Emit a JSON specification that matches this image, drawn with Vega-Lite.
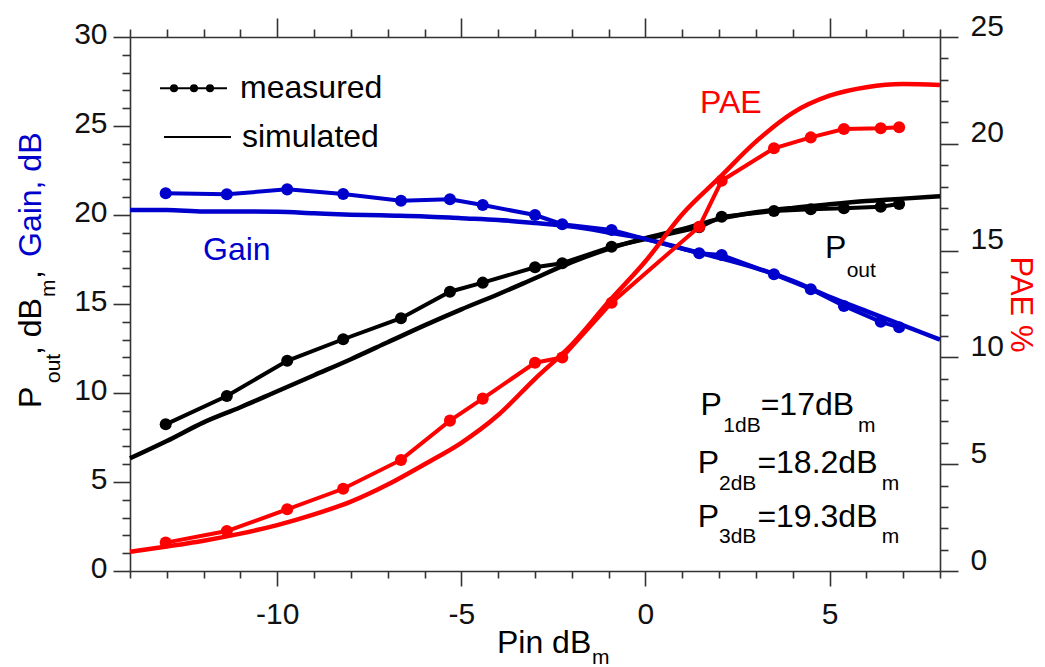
{
  "$schema": "https://vega.github.io/schema/vega-lite/v6.json",
  "width": 810,
  "height": 534,
  "autosize": {"type": "none"},
  "padding": {"left": 130, "top": 37, "right": 105, "bottom": 96},
  "background": "white",
  "config": {
    "font": "Liberation Sans",
    "view": {"stroke": null},
    "axis": {
      "grid": false,
      "domainColor": "#333333",
      "domainWidth": 1.6,
      "tickColor": "#333333",
      "tickWidth": 1.6,
      "labelFont": "Liberation Sans",
      "labelFontSize": 30,
      "labelColor": "#111111",
      "titleFont": "Liberation Sans"
    }
  },
  "datasets": {
    "leftSim": [
      {"x": -14, "y": 6.33, "series": "Pout"}, {"x": -13, "y": 7.3, "series": "Pout"}, {"x": -12, "y": 8.35, "series": "Pout"},
      {"x": -11, "y": 9.2, "series": "Pout"}, {"x": -10, "y": 10.1, "series": "Pout"}, {"x": -9, "y": 11.0, "series": "Pout"},
      {"x": -8, "y": 11.9, "series": "Pout"}, {"x": -7, "y": 12.85, "series": "Pout"}, {"x": -6, "y": 13.8, "series": "Pout"},
      {"x": -5, "y": 14.7, "series": "Pout"}, {"x": -4, "y": 15.55, "series": "Pout"}, {"x": -3, "y": 16.45, "series": "Pout"},
      {"x": -2, "y": 17.35, "series": "Pout"}, {"x": -1, "y": 18.1, "series": "Pout"}, {"x": 0, "y": 18.7, "series": "Pout"},
      {"x": 1, "y": 19.2, "series": "Pout"}, {"x": 2, "y": 19.78, "series": "Pout"}, {"x": 3, "y": 20.15, "series": "Pout"},
      {"x": 4, "y": 20.4, "series": "Pout"}, {"x": 5, "y": 20.6, "series": "Pout"}, {"x": 6, "y": 20.78, "series": "Pout"},
      {"x": 7, "y": 20.92, "series": "Pout"}, {"x": 8, "y": 21.05, "series": "Pout"},
      {"x": -14, "y": 20.28, "series": "Gain"}, {"x": -13, "y": 20.28, "series": "Gain"}, {"x": -12, "y": 20.2, "series": "Gain"},
      {"x": -11, "y": 20.2, "series": "Gain"}, {"x": -10, "y": 20.18, "series": "Gain"}, {"x": -9, "y": 20.1, "series": "Gain"},
      {"x": -8, "y": 20.02, "series": "Gain"}, {"x": -7, "y": 19.97, "series": "Gain"}, {"x": -6, "y": 19.92, "series": "Gain"},
      {"x": -5, "y": 19.82, "series": "Gain"}, {"x": -4, "y": 19.72, "series": "Gain"}, {"x": -3, "y": 19.55, "series": "Gain"},
      {"x": -2, "y": 19.35, "series": "Gain"}, {"x": -1, "y": 19.02, "series": "Gain"}, {"x": 0, "y": 18.65, "series": "Gain"},
      {"x": 1, "y": 18.12, "series": "Gain"}, {"x": 2, "y": 17.6, "series": "Gain"}, {"x": 3, "y": 17.02, "series": "Gain"},
      {"x": 4, "y": 16.3, "series": "Gain"}, {"x": 5, "y": 15.4, "series": "Gain"}, {"x": 6, "y": 14.6, "series": "Gain"},
      {"x": 7, "y": 13.8, "series": "Gain"}, {"x": 8, "y": 13.0, "series": "Gain"}
    ],
    "leftMeas": [
      {"x": -13.03, "y": 8.24, "series": "Pout"}, {"x": -11.37, "y": 9.83, "series": "Pout"}, {"x": -9.73, "y": 11.81, "series": "Pout"},
      {"x": -8.21, "y": 13.02, "series": "Pout"}, {"x": -6.64, "y": 14.2, "series": "Pout"}, {"x": -5.31, "y": 15.69, "series": "Pout"},
      {"x": -4.42, "y": 16.2, "series": "Pout"}, {"x": -3.0, "y": 17.06, "series": "Pout"}, {"x": -2.26, "y": 17.29, "series": "Pout"},
      {"x": -0.92, "y": 18.22, "series": "Pout"}, {"x": 1.46, "y": 19.31, "series": "Pout"}, {"x": 2.07, "y": 19.9, "series": "Pout"},
      {"x": 3.49, "y": 20.22, "series": "Pout"}, {"x": 4.49, "y": 20.32, "series": "Pout"}, {"x": 5.39, "y": 20.38, "series": "Pout"},
      {"x": 6.39, "y": 20.47, "series": "Pout"}, {"x": 6.89, "y": 20.62, "series": "Pout"},
      {"x": -13.03, "y": 21.22, "series": "Gain"}, {"x": -11.37, "y": 21.16, "series": "Gain"}, {"x": -9.73, "y": 21.44, "series": "Gain"},
      {"x": -8.21, "y": 21.18, "series": "Gain"}, {"x": -6.64, "y": 20.8, "series": "Gain"}, {"x": -5.31, "y": 20.88, "series": "Gain"},
      {"x": -4.42, "y": 20.56, "series": "Gain"}, {"x": -3.0, "y": 20.0, "series": "Gain"}, {"x": -2.26, "y": 19.48, "series": "Gain"},
      {"x": -0.92, "y": 19.16, "series": "Gain"}, {"x": 1.46, "y": 17.85, "series": "Gain"}, {"x": 2.07, "y": 17.75, "series": "Gain"},
      {"x": 3.49, "y": 16.67, "series": "Gain"}, {"x": 4.49, "y": 15.83, "series": "Gain"}, {"x": 5.39, "y": 14.89, "series": "Gain"},
      {"x": 6.39, "y": 14.0, "series": "Gain"}, {"x": 6.89, "y": 13.69, "series": "Gain"}
    ],
    "paeSim": [
      {"x": -14, "y": 0.9, "series": "PAE"}, {"x": -13, "y": 1.15, "series": "PAE"}, {"x": -12, "y": 1.42, "series": "PAE"},
      {"x": -11, "y": 1.75, "series": "PAE"}, {"x": -10, "y": 2.15, "series": "PAE"}, {"x": -9, "y": 2.65, "series": "PAE"},
      {"x": -8, "y": 3.25, "series": "PAE"}, {"x": -7, "y": 4.05, "series": "PAE"}, {"x": -6, "y": 5.0, "series": "PAE"},
      {"x": -5, "y": 6.0, "series": "PAE"}, {"x": -4, "y": 7.3, "series": "PAE"}, {"x": -3, "y": 9.0, "series": "PAE"},
      {"x": -2, "y": 10.6, "series": "PAE"}, {"x": -1, "y": 12.6, "series": "PAE"}, {"x": 0, "y": 14.5, "series": "PAE"},
      {"x": 1, "y": 16.7, "series": "PAE"}, {"x": 2, "y": 18.4, "series": "PAE"}, {"x": 3, "y": 20.1, "series": "PAE"},
      {"x": 4, "y": 21.45, "series": "PAE"}, {"x": 5, "y": 22.25, "series": "PAE"}, {"x": 6, "y": 22.65, "series": "PAE"},
      {"x": 7, "y": 22.8, "series": "PAE"}, {"x": 8, "y": 22.75, "series": "PAE"}
    ],
    "paeMeas": [
      {"x": -13.03, "y": 1.33, "series": "PAE"}, {"x": -11.37, "y": 1.87, "series": "PAE"}, {"x": -9.73, "y": 2.89, "series": "PAE"},
      {"x": -8.21, "y": 3.85, "series": "PAE"}, {"x": -6.64, "y": 5.2, "series": "PAE"}, {"x": -5.31, "y": 7.04, "series": "PAE"},
      {"x": -4.42, "y": 8.07, "series": "PAE"}, {"x": -3.0, "y": 9.75, "series": "PAE"}, {"x": -2.26, "y": 10.0, "series": "PAE"},
      {"x": -0.92, "y": 12.56, "series": "PAE"}, {"x": 1.46, "y": 16.12, "series": "PAE"}, {"x": 2.07, "y": 18.27, "series": "PAE"},
      {"x": 3.49, "y": 19.79, "series": "PAE"}, {"x": 4.49, "y": 20.3, "series": "PAE"}, {"x": 5.39, "y": 20.69, "series": "PAE"},
      {"x": 6.39, "y": 20.73, "series": "PAE"}, {"x": 6.89, "y": 20.77, "series": "PAE"}
    ],
    "legendLines": [
      {"x": -13.185, "y": 27.12, "item": "measured", "series": "Pout"},
      {"x": -11.366, "y": 27.12, "item": "measured", "series": "Pout"},
      {"x": -13.077, "y": 24.38, "item": "simulated", "series": "Pout"},
      {"x": -11.257, "y": 24.38, "item": "simulated", "series": "Pout"}
    ],
    "legendDots": [
      {"x": -12.805, "y": 27.12, "series": "Pout"},
      {"x": -12.262, "y": 27.12, "series": "Pout"},
      {"x": -11.827, "y": 27.12, "series": "Pout"}
    ],
    "textMain": [
      {"x": -11.01, "y": 26.57, "text": "measured", "series": "Pout"},
      {"x": -10.96, "y": 23.82, "text": "simulated", "series": "Pout"},
      {"x": -12.017, "y": 17.47, "text": "Gain", "series": "Gain"},
      {"x": 4.876, "y": 17.57, "text": "P", "series": "Pout"},
      {"x": 1.497, "y": 8.764, "text": "P", "series": "Pout"},
      {"x": 3.129, "y": 8.764, "text": "=17dB", "series": "Pout"},
      {"x": 1.418, "y": 5.489, "text": "P", "series": "Pout"},
      {"x": 3.04, "y": 5.489, "text": "=18.2dB", "series": "Pout"},
      {"x": 1.418, "y": 2.489, "text": "P", "series": "Pout"},
      {"x": 3.04, "y": 2.489, "text": "=19.3dB", "series": "Pout"},
      {"x": -4.033, "y": -4.607, "text": "Pin dB", "series": "Pout"}
    ],
    "textSub": [
      {"x": 5.465, "y": 16.53, "text": "out", "series": "Pout"},
      {"x": 2.116, "y": 7.826, "text": "1dB", "series": "Pout"},
      {"x": 5.772, "y": 7.826, "text": "m", "series": "Pout"},
      {"x": 1.997, "y": 4.551, "text": "2dB", "series": "Pout"},
      {"x": 6.418, "y": 4.551, "text": "m", "series": "Pout"},
      {"x": 1.997, "y": 1.59, "text": "3dB", "series": "Pout"},
      {"x": 6.418, "y": 1.59, "text": "m", "series": "Pout"},
      {"x": -1.453, "y": -5.25, "text": "m", "series": "Pout"}
    ],
    "titleMain": [
      {"x": -16.417, "y": 9.157, "text": "P", "series": "Pout"},
      {"x": -16.417, "y": 12.13, "text": ", dB", "series": "Pout"},
      {"x": -16.417, "y": 16.4, "text": ",", "series": "Pout"},
      {"x": -16.417, "y": 17.64, "text": "Gain, dB", "series": "Gain"}
    ],
    "titleSub": [
      {"x": -15.9, "y": 10.56, "text": "out", "series": "Pout"},
      {"x": -16.037, "y": 15.39, "text": "m", "series": "Pout"}
    ],
    "paeText": [
      {"x": 1.481, "y": 21.43, "text": "PAE", "series": "PAE"}
    ]
  },
  "layer": [
    {
      "encoding": {
        "x": {
          "field": "x", "type": "quantitative",
          "scale": {"domain": [-14, 8], "nice": false, "zero": false},
          "axis": {
            "orient": "bottom", "title": null,
            "values": [-14, -13, -12, -11, -10, -9, -8, -7, -6, -5, -4, -3, -2, -1, 0, 1, 2, 3, 4, 5, 6, 7, 8],
            "tickSize": {"condition": {"test": "datum.value % 5 === 0", "value": 15}, "value": 7},
            "labelExpr": "datum.value % 5 === 0 ? toString(datum.value) : ''",
            "labelPadding": 13,
            "labelFlush": false
          }
        },
        "y": {
          "field": "y", "type": "quantitative",
          "scale": {"domain": [0, 30], "nice": false, "zero": false},
          "axis": {
            "orient": "left", "title": null,
            "values": [0, 1, 2, 3, 4, 5, 6, 7, 8, 9, 10, 11, 12, 13, 14, 15, 16, 17, 18, 19, 20, 21, 22, 23, 24, 25, 26, 27, 28, 29, 30],
            "tickSize": {"condition": {"test": "datum.value % 5 === 0", "value": 17}, "value": 8},
            "labelExpr": "datum.value % 5 === 0 ? datum.label : ''",
            "labelPadding": 6,
            "labelOffset": -3,
            "labelFlush": false
          }
        }
      },
      "layer": [
        {
          "data": {"name": "leftSim"},
          "mark": {"type": "line", "strokeWidth": 4.5, "interpolate": "monotone"},
          "encoding": {
            "color": {"field": "series", "type": "nominal", "scale": {"domain": ["Pout", "Gain", "PAE"], "range": ["#000000", "#0000cc", "#ff0000"]}, "legend": null}
          }
        },
        {
          "data": {"name": "leftMeas"},
          "mark": {"type": "line", "strokeWidth": 4},
          "encoding": {
            "color": {"field": "series", "type": "nominal", "scale": {"domain": ["Pout", "Gain", "PAE"], "range": ["#000000", "#0000cc", "#ff0000"]}, "legend": null}
          }
        },
        {
          "data": {"name": "leftMeas"},
          "mark": {"type": "point", "filled": true, "opacity": 1, "size": 145},
          "encoding": {
            "color": {"field": "series", "type": "nominal", "scale": {"domain": ["Pout", "Gain", "PAE"], "range": ["#000000", "#0000cc", "#ff0000"]}, "legend": null}
          }
        },
        {
          "data": {"name": "legendLines"},
          "mark": {"type": "line", "strokeWidth": 2},
          "encoding": {
            "detail": {"field": "item", "type": "nominal"},
            "color": {"field": "series", "type": "nominal", "scale": {"domain": ["Pout", "Gain", "PAE"], "range": ["#000000", "#0000cc", "#ff0000"]}, "legend": null}
          }
        },
        {
          "data": {"name": "legendDots"},
          "mark": {"type": "point", "filled": true, "opacity": 1, "size": 65},
          "encoding": {
            "color": {"field": "series", "type": "nominal", "scale": {"domain": ["Pout", "Gain", "PAE"], "range": ["#000000", "#0000cc", "#ff0000"]}, "legend": null}
          }
        },
        {
          "data": {"name": "textMain"},
          "mark": {"type": "text", "fontSize": 32, "align": "left", "baseline": "alphabetic", "font": "Liberation Sans"},
          "encoding": {
            "text": {"field": "text"},
            "color": {"field": "series", "type": "nominal", "scale": {"domain": ["Pout", "Gain", "PAE"], "range": ["#000000", "#0000cc", "#ff0000"]}, "legend": null}
          }
        },
        {
          "data": {"name": "textSub"},
          "mark": {"type": "text", "fontSize": 21, "align": "left", "baseline": "alphabetic", "font": "Liberation Sans"},
          "encoding": {
            "text": {"field": "text"},
            "color": {"field": "series", "type": "nominal", "scale": {"domain": ["Pout", "Gain", "PAE"], "range": ["#000000", "#0000cc", "#ff0000"]}, "legend": null}
          }
        },
        {
          "data": {"name": "titleMain"},
          "mark": {"type": "text", "fontSize": 32, "align": "left", "baseline": "alphabetic", "angle": 270, "font": "Liberation Sans"},
          "encoding": {
            "text": {"field": "text"},
            "color": {"field": "series", "type": "nominal", "scale": {"domain": ["Pout", "Gain", "PAE"], "range": ["#000000", "#0000cc", "#ff0000"]}, "legend": null}
          }
        },
        {
          "data": {"name": "titleSub"},
          "mark": {"type": "text", "fontSize": 21, "align": "left", "baseline": "alphabetic", "angle": 270, "font": "Liberation Sans"},
          "encoding": {
            "text": {"field": "text"},
            "color": {"field": "series", "type": "nominal", "scale": {"domain": ["Pout", "Gain", "PAE"], "range": ["#000000", "#0000cc", "#ff0000"]}, "legend": null}
          }
        }
      ]
    },
    {
      "encoding": {
        "x": {
          "field": "x", "type": "quantitative",
          "scale": {"domain": [-14, 8], "nice": false, "zero": false},
          "axis": {
            "orient": "top", "title": null, "labels": false,
            "values": [-14, -13, -12, -11, -10, -9, -8, -7, -6, -5, -4, -3, -2, -1, 0, 1, 2, 3, 4, 5, 6, 7, 8],
            "tickSize": {"condition": {"test": "datum.value % 5 === 0", "value": 19}, "value": 8}
          }
        },
        "y": {
          "field": "y", "type": "quantitative",
          "scale": {"domain": [0, 25], "nice": false, "zero": false},
          "axis": {
            "orient": "right",
            "title": "PAE %",
            "titleColor": "#ff0000",
            "titleFontSize": 31,
            "titleFontWeight": "normal",
            "titlePadding": 0,
            "values": [0, 1, 2, 3, 4, 5, 6, 7, 8, 9, 10, 11, 12, 13, 14, 15, 16, 17, 18, 19, 20, 21, 22, 23, 24, 25],
            "tickSize": {"condition": {"test": "datum.value % 5 === 0", "value": 18}, "value": 8},
            "labelExpr": "datum.value % 5 === 0 ? datum.label : ''",
            "labelPadding": 12,
            "labelOffset": -11,
            "labelFlush": false
          }
        }
      },
      "layer": [
        {
          "data": {"name": "paeSim"},
          "mark": {"type": "line", "strokeWidth": 4.5, "interpolate": "monotone"},
          "encoding": {
            "color": {"field": "series", "type": "nominal", "scale": {"domain": ["Pout", "Gain", "PAE"], "range": ["#000000", "#0000cc", "#ff0000"]}, "legend": null}
          }
        },
        {
          "data": {"name": "paeMeas"},
          "mark": {"type": "line", "strokeWidth": 4},
          "encoding": {
            "color": {"field": "series", "type": "nominal", "scale": {"domain": ["Pout", "Gain", "PAE"], "range": ["#000000", "#0000cc", "#ff0000"]}, "legend": null}
          }
        },
        {
          "data": {"name": "paeMeas"},
          "mark": {"type": "point", "filled": true, "opacity": 1, "size": 145},
          "encoding": {
            "color": {"field": "series", "type": "nominal", "scale": {"domain": ["Pout", "Gain", "PAE"], "range": ["#000000", "#0000cc", "#ff0000"]}, "legend": null}
          }
        },
        {
          "data": {"name": "paeText"},
          "mark": {"type": "text", "fontSize": 32, "align": "left", "baseline": "alphabetic", "font": "Liberation Sans"},
          "encoding": {
            "text": {"field": "text"},
            "color": {"field": "series", "type": "nominal", "scale": {"domain": ["Pout", "Gain", "PAE"], "range": ["#000000", "#0000cc", "#ff0000"]}, "legend": null}
          }
        }
      ]
    }
  ],
  "resolve": {
    "scale": {"y": "independent"},
    "axis": {"x": "independent", "y": "independent"}
  }
}
